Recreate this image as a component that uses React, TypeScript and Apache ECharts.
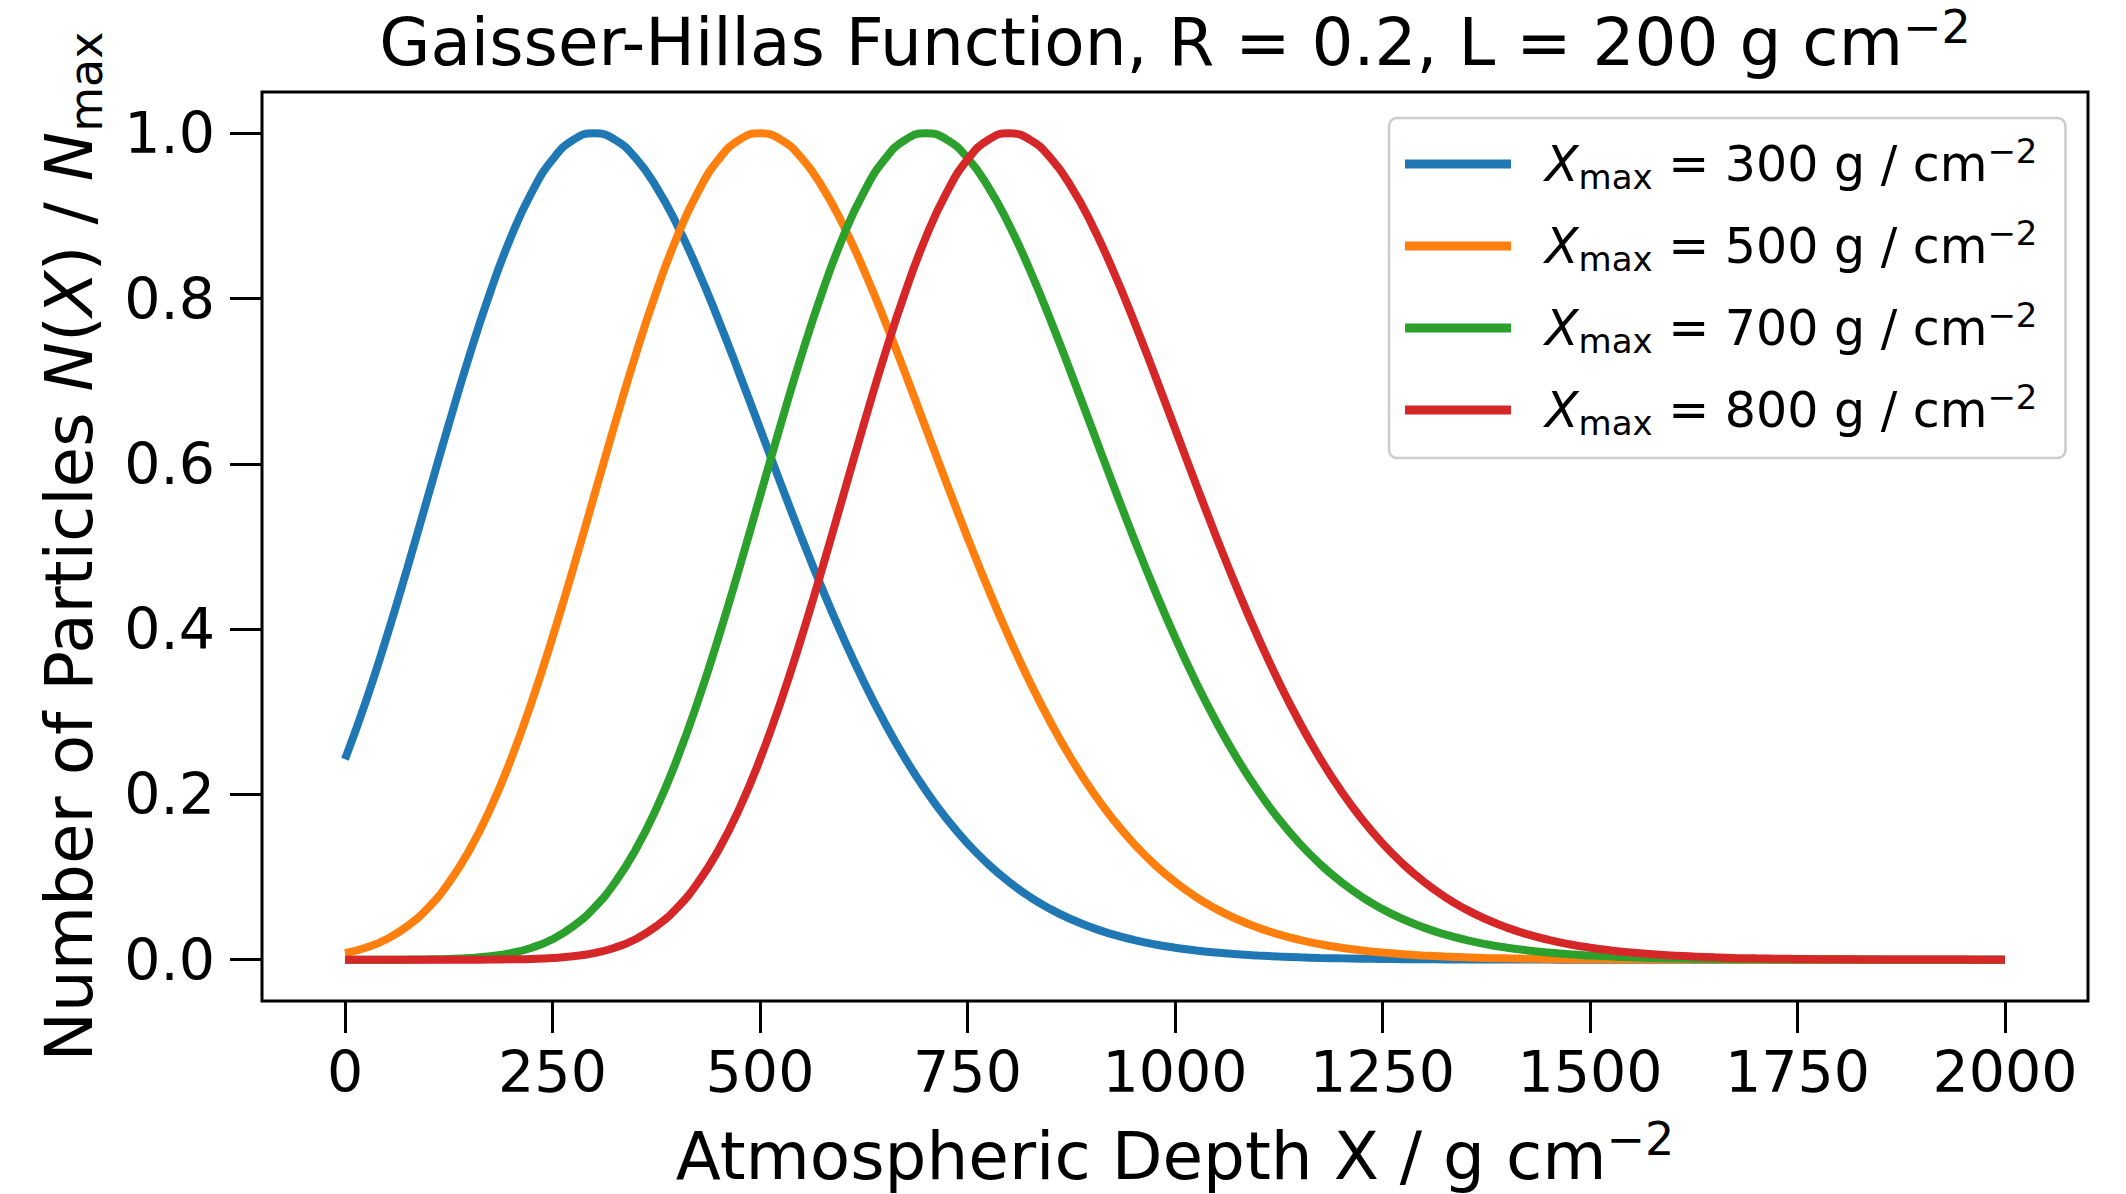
import React, { useEffect, useRef } from 'react';
import * as echarts from 'echarts';

// Atmospheric depth X (g cm^-2), every 25
const depth = [
  0, 25, 50, 75, 100, 125, 150, 175, 200, 225, 250, 275, 300, 325, 350, 375, 400, 425, 450, 475,
  500, 525, 550, 575, 600, 625, 650, 675, 700, 725, 750, 775, 800, 825, 850, 875, 900, 925, 950, 975,
  1000, 1025, 1050, 1075, 1100, 1125, 1150, 1175, 1200, 1225, 1250, 1275, 1300, 1325, 1350, 1375, 1400, 1425, 1450, 1475,
  1500, 1525, 1550, 1575, 1600, 1625, 1650, 1675, 1700, 1725, 1750, 1775, 1800, 1825, 1850, 1875, 1900, 1925, 1950, 1975,
  2000,
];

const xmaxList = [300, 500, 700, 800];
const colors = ['#1f77b4', '#ff7f0e', '#2ca02c', '#d62728'];

// N(X)/Nmax
const nX300 = [
  0.2425, 0.3121, 0.3899, 0.4736, 0.5607, 0.6477, 0.7313, 0.8079, 0.8746, 0.9286,
  0.9682, 0.9921, 1.0, 0.9924, 0.9702, 0.9352, 0.8894, 0.8349, 0.7742, 0.7094,
  0.6428, 0.5761, 0.511, 0.4487, 0.3903, 0.3363, 0.2873, 0.2432, 0.2043, 0.1702,
  0.1407, 0.1155, 0.0941, 0.0761, 0.0612, 0.0489, 0.0388, 0.0306, 0.024, 0.0187,
  0.0145, 0.0112, 0.0086, 0.0065, 0.005, 0.0038, 0.0028, 0.0021, 0.0016, 0.0012,
  0.0009, 0.0006, 0.0005, 0.0003, 0.0002, 0.0002, 0.0001, 0.0001, 0.0001, 0,
  0, 0, 0, 0, 0, 0, 0, 0, 0, 0,
  0, 0, 0, 0, 0, 0, 0, 0, 0, 0,
  0,
];
const nX500 = [
  0.008, 0.0145, 0.0248, 0.0404, 0.0626, 0.093, 0.1327, 0.1825, 0.2425, 0.3121,
  0.3899, 0.4736, 0.5607, 0.6477, 0.7313, 0.8079, 0.8746, 0.9286, 0.9682, 0.9921,
  1.0, 0.9924, 0.9702, 0.9352, 0.8894, 0.8349, 0.7742, 0.7094, 0.6428, 0.5761,
  0.511, 0.4487, 0.3903, 0.3363, 0.2873, 0.2432, 0.2043, 0.1702, 0.1407, 0.1155,
  0.0941, 0.0761, 0.0612, 0.0489, 0.0388, 0.0306, 0.024, 0.0187, 0.0145, 0.0112,
  0.0086, 0.0065, 0.005, 0.0038, 0.0028, 0.0021, 0.0016, 0.0012, 0.0009, 0.0006,
  0.0005, 0.0003, 0.0002, 0.0002, 0.0001, 0.0001, 0.0001, 0, 0, 0,
  0, 0, 0, 0, 0, 0, 0, 0, 0, 0,
  0,
];
const nX700 = [
  0, 0, 0, 0.0001, 0.0004, 0.0009, 0.002, 0.0041, 0.008, 0.0145,
  0.0248, 0.0404, 0.0626, 0.093, 0.1327, 0.1825, 0.2425, 0.3121, 0.3899, 0.4736,
  0.5607, 0.6477, 0.7313, 0.8079, 0.8746, 0.9286, 0.9682, 0.9921, 1.0, 0.9924,
  0.9702, 0.9352, 0.8894, 0.8349, 0.7742, 0.7094, 0.6428, 0.5761, 0.511, 0.4487,
  0.3903, 0.3363, 0.2873, 0.2432, 0.2043, 0.1702, 0.1407, 0.1155, 0.0941, 0.0761,
  0.0612, 0.0489, 0.0388, 0.0306, 0.024, 0.0187, 0.0145, 0.0112, 0.0086, 0.0065,
  0.005, 0.0038, 0.0028, 0.0021, 0.0016, 0.0012, 0.0009, 0.0006, 0.0005, 0.0003,
  0.0002, 0.0002, 0.0001, 0.0001, 0.0001, 0, 0, 0, 0, 0,
  0,
];
const nX800 = [
  0, 0, 0, 0, 0, 0, 0, 0.0001, 0.0004, 0.0009,
  0.002, 0.0041, 0.008, 0.0145, 0.0248, 0.0404, 0.0626, 0.093, 0.1327, 0.1825,
  0.2425, 0.3121, 0.3899, 0.4736, 0.5607, 0.6477, 0.7313, 0.8079, 0.8746, 0.9286,
  0.9682, 0.9921, 1.0, 0.9924, 0.9702, 0.9352, 0.8894, 0.8349, 0.7742, 0.7094,
  0.6428, 0.5761, 0.511, 0.4487, 0.3903, 0.3363, 0.2873, 0.2432, 0.2043, 0.1702,
  0.1407, 0.1155, 0.0941, 0.0761, 0.0612, 0.0489, 0.0388, 0.0306, 0.024, 0.0187,
  0.0145, 0.0112, 0.0086, 0.0065, 0.005, 0.0038, 0.0028, 0.0021, 0.0016, 0.0012,
  0.0009, 0.0006, 0.0005, 0.0003, 0.0002, 0.0002, 0.0001, 0.0001, 0.0001, 0,
  0,
];
const seriesValues = [nX300, nX500, nX700, nX800];

const xTicks = [0, 250, 500, 750, 1000, 1250, 1500, 1750, 2000];
const yTicks = [0, 0.2, 0.4, 0.6, 0.8, 1.0];

const titleText = 'Gaisser-Hillas Function, R = 0.2, L = 200 g cm';
const xName = 'Atmospheric Depth X / g cm';
const seriesNames = xmaxList.map((v) => `Xmax = ${v} g / cm−2`);

const FONT = "'DejaVu Sans', sans-serif";

export default function App() {
  const ref = useRef<HTMLDivElement>(null);

  useEffect(() => {
    const chart = echarts.init(ref.current!, null, { renderer: 'svg' });

    const tok = (size: number, extra: any = {}) => ({
      fontFamily: FONT,
      color: '#000',
      fontSize: size,
      ...extra,
    });

    const option: any = {
      animation: false,
      backgroundColor: '#fff',
      title: {
        text: `${titleText}{sup|−2}`,
        left: 1175,
        top: 7,
        padding: 0,
        textAlign: 'center',
        textStyle: {
          fontFamily: FONT,
          fontSize: 66,
          fontWeight: 'normal',
          color: '#000',
          lineHeight: 70,
          rich: {
            sup: tok(46, { lineHeight: 40, padding: [0, 0, 30, 0] }),
          },
        },
      },
      grid: {
        left: 262,
        top: 92,
        width: 1826,
        height: 909,
        show: true,
        borderColor: '#000',
        borderWidth: 3,
        backgroundColor: 'transparent',
        containLabel: false,
        outerBoundsMode: 'none',
      },
      legend: {
        show: true,
        orient: 'vertical',
        left: 1389,
        top: 118,
        selectedMode: false,
        icon: 'rect',
        itemWidth: 106,
        itemHeight: 9,
        itemGap: 22,
        padding: [16, 28, 18, 16],
        backgroundColor: 'rgba(255,255,255,0.8)',
        borderColor: '#cccccc',
        borderWidth: 2.5,
        borderRadius: 8,
        data: seriesNames,
        formatter: (name: string) => {
          const i = seriesNames.indexOf(name);
          return `{it|X}{sub|max} = ${xmaxList[i]} g / cm{sup|−2}`;
        },
        textStyle: {
          fontFamily: FONT,
          fontSize: 49,
          color: '#000',
          lineHeight: 60,
          padding: [0, 0, 0, 29],
          rich: {
            it: tok(49, { fontStyle: 'italic', lineHeight: 60 }),
            sub: tok(34, { lineHeight: 34, padding: [26, 0, 0, 0] }),
            sup: tok(34, { lineHeight: 34, padding: [0, 0, 26, 0] }),
          },
        },
      },
      xAxis: {
        type: 'value',
        min: -100,
        max: 2100,
        name: `${xName}{sup|−2}`,
        nameLocation: 'middle',
        nameGap: 120,
        nameTextStyle: {
          fontFamily: FONT,
          fontSize: 66,
          color: '#000',
          lineHeight: 70,
          rich: {
            sup: tok(46, { lineHeight: 36, padding: [0, 0, 34, 0] }),
          },
        },
        axisLine: { show: false, onZero: false },
        splitLine: { show: false },
        axisTick: {
          show: true,
          inside: false,
          length: 32,
          customValues: xTicks,
          lineStyle: { color: '#000', width: 3 },
        },
        axisLabel: {
          show: true,
          customValues: xTicks,
          margin: 42,
          fontFamily: FONT,
          fontSize: 57,
          lineHeight: 57,
          color: '#000',
          formatter: (v: number) => String(v),
        },
      },
      yAxis: {
        type: 'value',
        min: -0.05,
        max: 1.05,
        name: 'Number of Particles {it|N}({it|X}) / {it|N}{sub|max}',
        nameLocation: 'middle',
        nameGap: 158,
        nameTextStyle: {
          fontFamily: FONT,
          fontSize: 66,
          color: '#000',
          lineHeight: 70,
          rich: {
            it: tok(66, { fontStyle: 'italic', lineHeight: 70 }),
            sub: tok(46, { lineHeight: 36, padding: [34, 0, 0, 0] }),
          },
        },
        axisLine: { show: false, onZero: false },
        splitLine: { show: false },
        axisTick: {
          show: true,
          inside: false,
          length: 32,
          customValues: yTicks,
          lineStyle: { color: '#000', width: 3 },
        },
        axisLabel: {
          show: true,
          customValues: yTicks,
          margin: 47,
          fontFamily: FONT,
          fontSize: 57,
          lineHeight: 57,
          color: '#000',
          formatter: (v: number) => v.toFixed(1),
        },
      },
      series: seriesValues.map((vals, i) => ({
        name: seriesNames[i],
        type: 'line',
        data: depth.map((x, j) => [x, vals[j]]),
        showSymbol: false,
        symbol: 'none',
        smooth: true,
        color: colors[i],
        itemStyle: { color: colors[i] },
        lineStyle: { color: colors[i], width: 8 },
        z: 2 + i,
      })),
    };

    chart.setOption(option);
    return () => chart.dispose();
  }, []);

  return (
    <div
      ref={ref}
      style={{ position: 'absolute', left: 0, top: 0, width: 2126, height: 1194, background: '#fff' }}
    />
  );
}
